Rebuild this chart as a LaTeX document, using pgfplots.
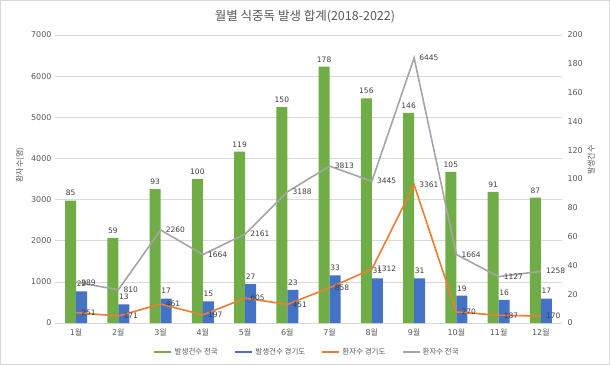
\documentclass[border=0pt]{standalone}
\usepackage{fontspec}
\setmainfont{DejaVu Sans}
\newfontfamily\kr{Noto Sans CJK KR}
\usepackage{pgfplots}
\usepackage{pgfplotstable}
\pgfplotsset{compat=1.18}
\definecolor{cgreen}{HTML}{70AD47}
\definecolor{cblue}{HTML}{4472C4}
\definecolor{corange}{HTML}{ED7D31}
\definecolor{cgray}{HTML}{A5A5A5}
\definecolor{ctext}{HTML}{595959}
\definecolor{clab}{HTML}{404040}
\definecolor{cgrid}{HTML}{D9D9D9}
\pgfplotstableread{
m nat gg pnat pgg
1 85 22 989 251
2 59 13 810 171
3 93 17 2260 461
4 100 15 1664 197
5 119 27 2161 605
6 150 23 3188 451
7 178 33 3813 858
8 156 31 3445 1312
9 146 31 6445 3361
10 105 19 1664 270
11 91 16 1127 187
12 87 17 1258 170
}\data
\pgfplotsset{
  /pgf/number format/assume math mode=true,
  /pgf/number format/1000 sep={},
  base/.style={
    scale only axis, width=507pt, height=288pt,
    at={(55pt,42pt)}, anchor=south west,
    xmin=0.5, xmax=12.5, enlargelimits=false,
    axis line style={draw=none}, tick style={draw=none},
    ticklabel style={text=ctext, font=\fontsize{8}{9}\selectfont},
  },
}
\begin{document}
\begin{tikzpicture}
\useasboundingbox (0,0) rectangle (610pt,365pt);
\draw[cgrid] (0.5pt,0.5pt) rectangle (609.5pt,364.5pt);
% grid + left axis + x labels
\begin{axis}[base,
  ymin=0, ymax=7000, ytick={0,1000,...,7000},
  ymajorgrids, grid style={cgrid, line width=0.7pt},
  xtick={1,...,12},
  xticklabels={{1\kr 월},{2\kr 월},{3\kr 월},{4\kr 월},{5\kr 월},{6\kr 월},{7\kr 월},{8\kr 월},{9\kr 월},{10\kr 월},{11\kr 월},{12\kr 월}},
  xticklabel style={yshift=-2pt},
]
\addplot[draw=none] coordinates {(1,0)};
\end{axis}
% bars, right axis
\begin{axis}[base,
  ymin=0, ymax=200, ytick={0,20,...,200},
  axis y line*=right, xtick=\empty,
  yticklabel style={xshift=2pt},
  ybar, bar width=11pt,
  nodes near coords,
  every node near coord/.append style={font=\fontsize{7.5}{8}\selectfont, text=clab, yshift=1pt},
  clip=false,
]
\addplot[fill=cgreen, draw=none, bar shift=-5.5pt] table[x=m, y=nat] {\data};
\addplot[fill=cblue, draw=none, bar shift=5.5pt] table[x=m, y=gg] {\data};
\end{axis}
% lines, left scale
\begin{axis}[base,
  ymin=0, ymax=7000, xtick=\empty, ytick=\empty,
  clip=false,
  legend style={at={(0.497,-0.101)}, anchor=center, legend columns=4, draw=none, fill=none,
    font=\kr\fontsize{7.5}{9}\selectfont, text=ctext,
    /tikz/every even column/.append style={column sep=14pt}},
  legend cell align=left,
]
\addlegendimage{cgreen, line width=2.5pt}
\addlegendentry{발생건수 전국}
\addlegendimage{cblue, line width=2.5pt}
\addlegendentry{발생건수 경기도}
\addlegendimage{corange, line width=2pt}
\addlegendentry{환자수 경기도}
\addlegendimage{cgray, line width=2pt}
\addlegendentry{환자수 전국}
\addplot[corange, line width=1.6pt, nodes near coords,
  every node near coord/.append style={anchor=west, xshift=1pt, font=\fontsize{7.5}{8}\selectfont, text=clab}]
  table[x=m, y=pgg] {\data};
\addplot[cgray, line width=1.6pt, nodes near coords,
  every node near coord/.append style={anchor=west, xshift=1pt, font=\fontsize{7.5}{8}\selectfont, text=clab}]
  table[x=m, y=pnat] {\data};
\end{axis}
\node[font=\kr\fontsize{12.5}{14}\selectfont, text=ctext] at (305pt,348pt) {월별 식중독 발생 합계(2018-2022)};
\node[font=\kr\fontsize{8}{9}\selectfont, text=ctext, rotate=90] at (20pt,200pt) {환자수(명)};
\node[font=\kr\fontsize{8}{9}\selectfont, text=ctext, rotate=90] at (591pt,205pt) {발생건수};
\end{tikzpicture}
\end{document}
